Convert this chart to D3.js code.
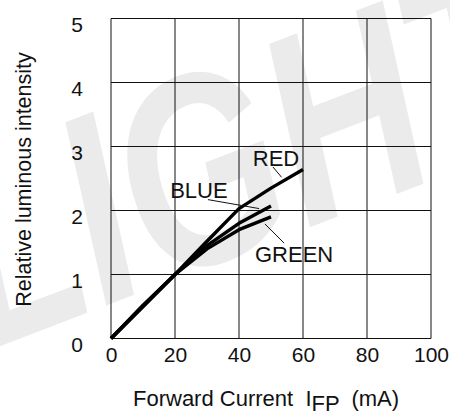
<!DOCTYPE html>
<html><head><meta charset="utf-8">
<script src="https://cdn.jsdelivr.net/npm/d3@7/dist/d3.min.js"></script>
<style>
html,body{margin:0;padding:0;background:#fff;}
svg{display:block;font-family:"Liberation Sans",Arial,sans-serif;}
text{white-space:pre;}
</style></head>
<body><svg id="c" width="450" height="412"></svg>
<script>
const xTicks = [0, 20, 40, 60, 80, 100];
const yTicks = [0, 1, 2, 3, 4, 5];
const current = [0, 10, 20, 30, 40, 50, 60];
const red   = [0, 0.5, 1.0, 1.52, 2.03, 2.35, 2.64];
const blue  = [0, 0.5, 1.0, 1.45, 1.80, 2.07];
const green = [0, 0.52, 1.0, 1.40, 1.70, 1.90];
const seriesNames = ["RED", "BLUE", "GREEN"];
const xLabel = "Forward Current";
const yLabel = "Relative luminous intensity";

const svg = d3.select("#c");
const x = d3.scaleLinear().domain([0, 100]).range([111, 431]);
const y = d3.scaleLinear().domain([0, 5]).range([338.5, 18.5]);

// watermark
svg.append("text")
  .attr("transform", "translate(-15,352) rotate(-21)")
  .attr("font-size", 270).attr("font-weight", "bold").attr("font-style", "italic")
  .attr("textLength", 620).attr("lengthAdjust", "spacingAndGlyphs")
  .attr("fill", "#ebebeb").text("LIGHT");

// grid
const g = svg.append("g");
g.selectAll("line.v").data(xTicks).join("line")
  .attr("x1", d => x(d)).attr("x2", d => x(d)).attr("y1", y(0)).attr("y2", y(5))
  .attr("stroke", "#111").attr("stroke-width", 1);
g.selectAll("line.h").data(yTicks).join("line")
  .attr("x1", x(0)).attr("x2", x(100)).attr("y1", d => y(d)).attr("y2", d => y(d))
  .attr("stroke", "#111").attr("stroke-width", 1);

// axes (labels only)
const xa = svg.append("g").attr("transform", `translate(0,${y(0)})`)
  .call(d3.axisBottom(x).tickValues(xTicks).tickFormat(d3.format("d")).tickSize(0).tickPadding(9));
const ya = svg.append("g").attr("transform", `translate(${x(0)},0)`)
  .call(d3.axisLeft(y).tickValues(yTicks).tickFormat(d3.format("d")).tickSize(0).tickPadding(28));
[xa, ya].forEach(a => {
  a.select(".domain").remove();
  a.selectAll("text").attr("font-size", 21).attr("fill", "#111")
   .attr("font-family", "Liberation Sans, Arial, sans-serif");
});
ya.selectAll("text").attr("dy", "0.62em");

// curves
const line = d3.line().x((d, i) => x(current[i])).y(d => y(d));
[red, blue, green].forEach(s => {
  svg.append("path").datum(s).attr("d", line)
    .attr("fill", "none").attr("stroke", "#000").attr("stroke-width", 3.4)
    .attr("stroke-linejoin", "round");
});

// labels
const lab = svg.append("g").attr("font-size", 22).attr("fill", "#111");
lab.append("text").attr("x", x(44.3)).attr("y", y(2.69)).text(seriesNames[0]);
lab.append("text").attr("x", x(18.5)).attr("y", y(2.19)).text(seriesNames[1]);
lab.append("text").attr("x", x(45.0)).attr("y", y(1.19)).text(seriesNames[2]);
const leaders = [[[50.6, 2.68], [53.3, 2.52]], [[30.3, 2.17], [46.3, 2.03]], [[48.1, 1.79], [54.1, 1.49]]];
leaders.forEach(l => svg.append("line")
  .attr("x1", x(l[0][0])).attr("y1", y(l[0][1])).attr("x2", x(l[1][0])).attr("y2", y(l[1][1]))
  .attr("stroke", "#111").attr("stroke-width", 1));

// axis titles
const xt = svg.append("text").attr("x", 133).attr("y", 405.5).attr("font-size", 22).attr("fill", "#111")
  .attr("xml:space", "preserve");
xt.append("tspan").text(xLabel + "  I");
xt.append("tspan").attr("dy", 5).text("FP");
xt.append("tspan").attr("dy", -5).text("  (mA)");
svg.append("text").attr("transform", "translate(31,179.5) rotate(-90)")
  .attr("text-anchor", "middle").attr("font-size", 21.5).attr("fill", "#111").text(yLabel);
</script></body></html>
